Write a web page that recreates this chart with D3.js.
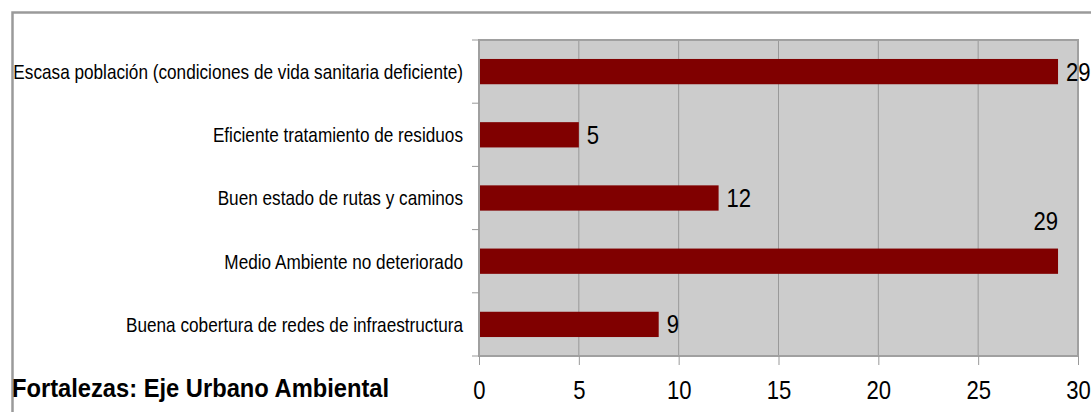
<!DOCTYPE html>
<html>
<head>
<meta charset="utf-8">
<script src="https://cdn.jsdelivr.net/npm/d3@7"></script>
<style>
  body { margin: 0; background: #fff; }
  svg text { font-family: "Liberation Sans Narrow", "Arial Narrow", "Liberation Sans", Arial, sans-serif; }
</style>
</head>
<body>
<div id="chart"></div>
<script>
var width = 1091,
    height = 412;

// data
var categories = [
    "Escasa población (condiciones de vida sanitaria deficiente)",
    "Eficiente tratamiento de residuos",
    "Buen estado de rutas y caminos",
    "Medio Ambiente no deteriorado",
    "Buena cobertura de redes de infraestructura"
];
var values = [29, 5, 12, 29, 9];
var xTicks = [0, 5, 10, 15, 20, 25, 30];
var title = "Fortalezas: Eje Urbano Ambiental";

var plot = {left: 479, right: 1078, top: 40, bottom: 356};

/**
 * Squeeze text horizontally, no narrow font is installed
 * @param {Selection} sel 
 * @param {Float} sx 
 */
function narrow(sel, sx) {
    sel.each(function() {
        let t = d3.select(this);
        let x = +t.attr('x') || 0;
        t.attr('x', x / sx)
         .attr('transform', 'scale(' + sx + ',1)');
    });
}

var svg = d3.select('#chart').append('svg')
    .attr('width', width)
    .attr('height', height);

// outer frame (only top and left edges are visible)
svg.append('rect')
    .attr('x', 12.5).attr('y', 12.5)
    .attr('width', width + 20).attr('height', height + 20)
    .attr('fill', 'none')
    .attr('stroke', '#9a9a9a')
    .attr('stroke-width', 2.5);

let scaleX = d3.scaleLinear().domain([0, 30]).range([plot.left, plot.right]);
let scaleY = d3.scaleBand().domain(categories)
    .range([plot.top, plot.bottom])
    .paddingInner(0.6).paddingOuter(0.3);
let step = scaleY.step();

// plot background
svg.append('rect')
    .attr('x', plot.left).attr('y', plot.top)
    .attr('width', plot.right - plot.left)
    .attr('height', plot.bottom - plot.top)
    .attr('fill', '#cccccc');

// vertical gridlines
svg.append('g').selectAll('line')
    .data(xTicks.filter(d => d > 0 && d < 30))
    .enter().append('line')
    .attr('x1', d => scaleX(d)).attr('x2', d => scaleX(d))
    .attr('y1', plot.top).attr('y2', plot.bottom)
    .attr('stroke', '#999999')
    .attr('stroke-width', 1);

// bars
svg.append('g').selectAll('rect')
    .data(values)
    .enter().append('rect')
    .attr('x', scaleX(0))
    .attr('y', (d, i) => scaleY(categories[i]))
    .attr('width', d => scaleX(d) - scaleX(0))
    .attr('height', scaleY.bandwidth())
    .attr('fill', '#800000');

// plot border
svg.append('rect')
    .attr('x', plot.left).attr('y', plot.top)
    .attr('width', plot.right - plot.left)
    .attr('height', plot.bottom - plot.top)
    .attr('fill', 'none')
    .attr('stroke', '#a0a0a0')
    .attr('stroke-width', 2);

// y axis: ticks at category boundaries
var yAxis = d3.axisLeft(scaleY).tickSize(0).tickPadding(16);
var gy = svg.append('g')
    .attr('transform', 'translate(' + plot.left + ',0)')
    .call(yAxis);
gy.select('.domain').remove();
gy.selectAll('text')
    .attr('font-size', 20.5)
    .attr('fill', '#000')
    .attr('dy', '0.36em')
    .call(narrow, 0.838);
gy.selectAll('.bound')
    .data(d3.range(categories.length + 1))
    .enter().append('line')
    .attr('class', 'bound')
    .attr('x1', -7).attr('x2', 0)
    .attr('y1', i => plot.top + i * step)
    .attr('y2', i => plot.top + i * step)
    .attr('stroke', '#999999');

// x axis
var xAxis = d3.axisBottom(scaleX).tickValues(xTicks).tickSize(9).tickPadding(16);
var gx = svg.append('g')
    .attr('transform', 'translate(0,' + plot.bottom + ')')
    .call(xAxis);
gx.select('.domain').remove();
gx.selectAll('line').attr('stroke', '#999999');
gx.selectAll('text')
    .attr('font-size', 26)
    .attr('fill', '#000')
    .call(narrow, 0.85);

// value labels (the 4th one sits above its bar, as in the original)
svg.append('g').selectAll('text')
    .data(values)
    .enter().append('text')
    .attr('font-size', 26)
    .attr('x', (d, i) => i === 3 ? scaleX(d) : scaleX(d) + 8)
    .attr('y', (d, i) => {
        let c = scaleY(categories[i]) + scaleY.bandwidth() / 2;
        return i === 3 ? c - 31 : c + 9;
    })
    .attr('text-anchor', (d, i) => i === 3 ? 'end' : 'start')
    .text(d => d)
    .call(narrow, 0.85);

// title
svg.append('text')
    .attr('x', 12).attr('y', 397)
    .attr('font-size', 25.5)
    .attr('font-weight', 'bold')
    .text(title)
    .call(narrow, 0.93);
</script>
</body>
</html>
